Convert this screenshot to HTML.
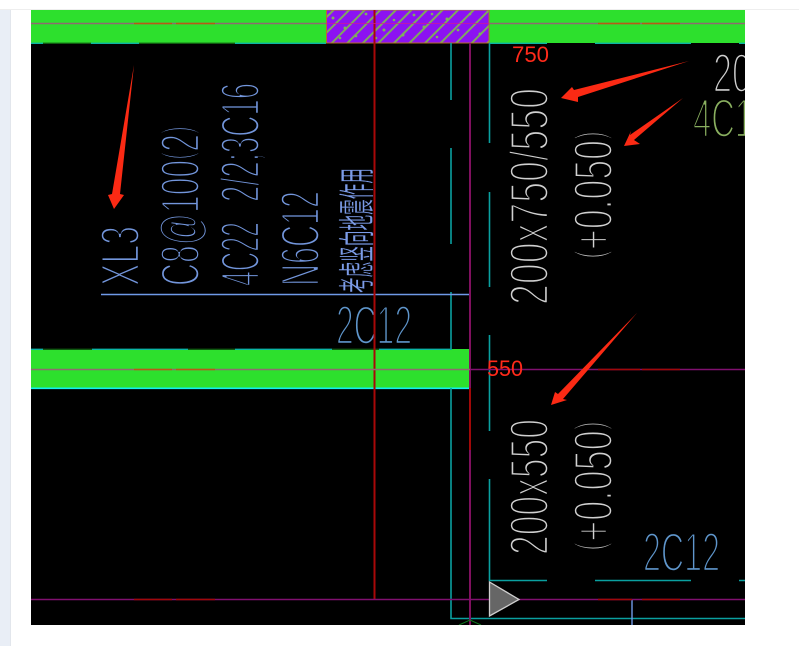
<!DOCTYPE html>
<html><head><meta charset="utf-8"><style>
html,body{margin:0;padding:0;background:#fff;width:799px;height:646px;overflow:hidden}
svg{display:block}
.t{font-family:"Liberation Sans","Noto Sans CJK SC",sans-serif;font-size:55px;stroke:#000;stroke-width:2.5px;paint-order:fill;}
</style></head><body>
<svg width="799" height="646" viewBox="0 0 799 646" xmlns="http://www.w3.org/2000/svg">
<defs>
<pattern id="h" width="11" height="11" patternUnits="userSpaceOnUse" patternTransform="rotate(45)">
<rect width="11" height="11" fill="#8c12f2"/><rect width="2" height="11" fill="#7fa85e"/>
</pattern>
<clipPath id="c"><rect x="31" y="10" width="714" height="615"/></clipPath>
</defs>
<rect x="0" y="9" width="799" height="1" fill="#eeeeee"/>
<rect x="0" y="10" width="10" height="636" fill="#e9eef6"/>
<rect x="10" y="10" width="1" height="636" fill="#e2e6ec"/>
<rect x="31" y="10" width="714" height="615" fill="#000"/>
<g clip-path="url(#c)">
<!-- text -->
<g fill="#7396dc">
<text class="t" transform="translate(139,286) rotate(-90)" textLength="60" lengthAdjust="spacingAndGlyphs">XL3</text>
<text class="t" transform="translate(199,286) rotate(-90)" textLength="160" lengthAdjust="spacingAndGlyphs">C8@100<tspan font-size="42" dy="-8">(</tspan><tspan dy="8">2</tspan><tspan font-size="42" dy="-8">)</tspan></text>
<text class="t" transform="translate(259,286) rotate(-90)" textLength="64" lengthAdjust="spacingAndGlyphs">4C22</text>
<text class="t" transform="translate(259,202) rotate(-90)" textLength="119" lengthAdjust="spacingAndGlyphs">2/2;3C16</text>
<text class="t" transform="translate(319,286) rotate(-90)" textLength="95" lengthAdjust="spacingAndGlyphs">N6C12</text>
<text transform="translate(370,293) rotate(-90)" font-family="'Noto Sans CJK SC',sans-serif" font-size="37" textLength="125" lengthAdjust="spacingAndGlyphs" fill="#7c9ce8" stroke="#000" stroke-width=".4">考虑竖向地震作用</text>
</g>
<g fill="#5f96cc">
<text class="t" x="336" y="344" textLength="76" lengthAdjust="spacingAndGlyphs">2C12</text>
<text class="t" x="643" y="571" textLength="77" lengthAdjust="spacingAndGlyphs">2C12</text>
</g>
<g fill="#d0d0d0">
<text class="t" transform="translate(548,305) rotate(-90)" textLength="217" lengthAdjust="spacingAndGlyphs">200x750/550</text>
<text class="t" transform="translate(612,259) rotate(-90)" textLength="128" lengthAdjust="spacingAndGlyphs"><tspan font-size="42" dy="-8">(</tspan><tspan dy="8">+0.050</tspan><tspan font-size="42" dy="-8">)</tspan></text>
<text class="t" transform="translate(548,555) rotate(-90)" textLength="136" lengthAdjust="spacingAndGlyphs">200x550</text>
<text class="t" transform="translate(612,551) rotate(-90)" textLength="130" lengthAdjust="spacingAndGlyphs"><tspan font-size="42" dy="-8">(</tspan><tspan dy="8">+0.050</tspan><tspan font-size="42" dy="-8">)</tspan></text>
<text class="t" x="713" y="92" textLength="38" lengthAdjust="spacingAndGlyphs">20</text>
</g>
<text class="t" x="693" y="137" fill="#8ab060" textLength="60" lengthAdjust="spacingAndGlyphs">4C1</text>

<!-- beams -->
<rect x="31" y="10" width="295" height="33" fill="#2de02d"/>
<rect x="489" y="10" width="256" height="33" fill="#2de02d"/>
<rect x="326" y="10" width="163" height="33" fill="url(#h)"/>
<g fill="#7fb05e">
<circle cx="333" cy="18" r="1.5"/><circle cx="345" cy="28" r="1.5"/><circle cx="356" cy="36" r="1.3"/><circle cx="366" cy="14" r="1.4"/><circle cx="384" cy="30" r="1.5"/><circle cx="394" cy="20" r="1.3"/><circle cx="403" cy="35" r="1.5"/><circle cx="414" cy="15" r="1.4"/><circle cx="424" cy="27" r="1.5"/><circle cx="437" cy="37" r="1.3"/><circle cx="447" cy="19" r="1.5"/><circle cx="458" cy="30" r="1.4"/><circle cx="470" cy="14" r="1.3"/><circle cx="480" cy="34" r="1.5"/><circle cx="340" cy="38" r="1.3"/><circle cx="376" cy="38" r="1.3"/><circle cx="432" cy="14" r="1.3"/>
</g>
<rect x="326.5" y="10" width="162.5" height="33" fill="none" stroke="#b8702a" stroke-width="1"/>
<rect x="31" y="349" width="439" height="39" fill="#2de02d"/>

<!-- cyan dashes on beam edges -->
<g stroke="#0bb5a5" stroke-width="1.4" fill="none">
<path d="M31 43.3H43M91 43.3H139M235 43.3H326M489 43.3H547M595 43.3H691M739 43.3H745"/>
<path d="M31 349.3H43M92 349.3H188M235 349.3H332M379 349.3H451"/>
<path d="M43 43.3H91M139 43.3H235" stroke="#0f5a10"/>
<path d="M43 349.3H92M188 349.3H235M332 349.3H379" stroke="#0f5a10"/>
</g>
<path d="M31 388.3H470" stroke="#10f0f0" stroke-width="1.6"/>

<!-- teal lines -->
<g stroke="#0aa0a0" stroke-width="1.6" fill="none">
<path d="M451 43V100M451 148V244M451 292V350M451 388V618.5H745"/>
<path d="M489.5 43V143M489.5 192V287M489.5 335V431M489.5 479V580.5H547M595 580.5H691M739 580.5H745"/>
</g>

<!-- blue lead lines -->
<path d="M101 294.5H470" stroke="#6f9ae8" stroke-width="1.4"/>
<path d="M632 599V625" stroke="#6f9ae8" stroke-width="1.4"/>

<!-- axis lines -->
<path d="M374.5 10V599" stroke="#a80808" stroke-width="2"/>
<path d="M470 43V625" stroke="#80105f" stroke-width="2"/>
<path d="M470 388V450" stroke="#a00808" stroke-width="2"/>
<path d="M31 23.5H326M489 23.5H745M31 369.5H470" stroke="#8f6a70" stroke-width="1.5"/>
<path d="M134 23.5H172M176 23.5H215M598 23.5H640M642 23.5H680M134 369.5H172M176 369.5H215" stroke="#b85a15" stroke-width="1.5"/>
<path d="M326 23.5H489" stroke="#d0189a" stroke-width="1" opacity=".7"/>
<path d="M470 369.5H745M31 599.5H745" stroke="#80106f" stroke-width="1.5"/>
<path d="M598 369.5H640M642 369.5H680M134 599.5H172M176 599.5H215M598 599.5H632M642 599.5H680" stroke="#a00808" stroke-width="1.5"/>

<!-- triangle -->
<polygon points="489.5,582 519,599.5 489.5,616" fill="#666" stroke="#cfcfcf" stroke-width="1.3"/>
<path d="M459 625L470 620L481 625" stroke="#0f7a20" stroke-width="1" fill="none"/>
</g>

<!-- red labels -->
<g font-family="'Liberation Sans',sans-serif" font-size="22" fill="#ff2a1a">
<text x="512" y="62" textLength="37" lengthAdjust="spacingAndGlyphs">750</text>
<text x="487" y="376" textLength="36" lengthAdjust="spacingAndGlyphs">550</text>
</g>

<!-- red arrows -->
<g fill="#fb2a14">
<polygon points="134,65 120,194 124,195 114,209 108,195 112,194"/>
<polygon points="689,61 578,97 578,102 561,98 572,87 574,90"/>
<polygon points="683,98 634,140 640,144 624,146 631,131 630,135"/>
<polygon points="637,313 563,399 567,400 551,405 555,392 558,394"/>
</g>
</svg>
</body></html>
